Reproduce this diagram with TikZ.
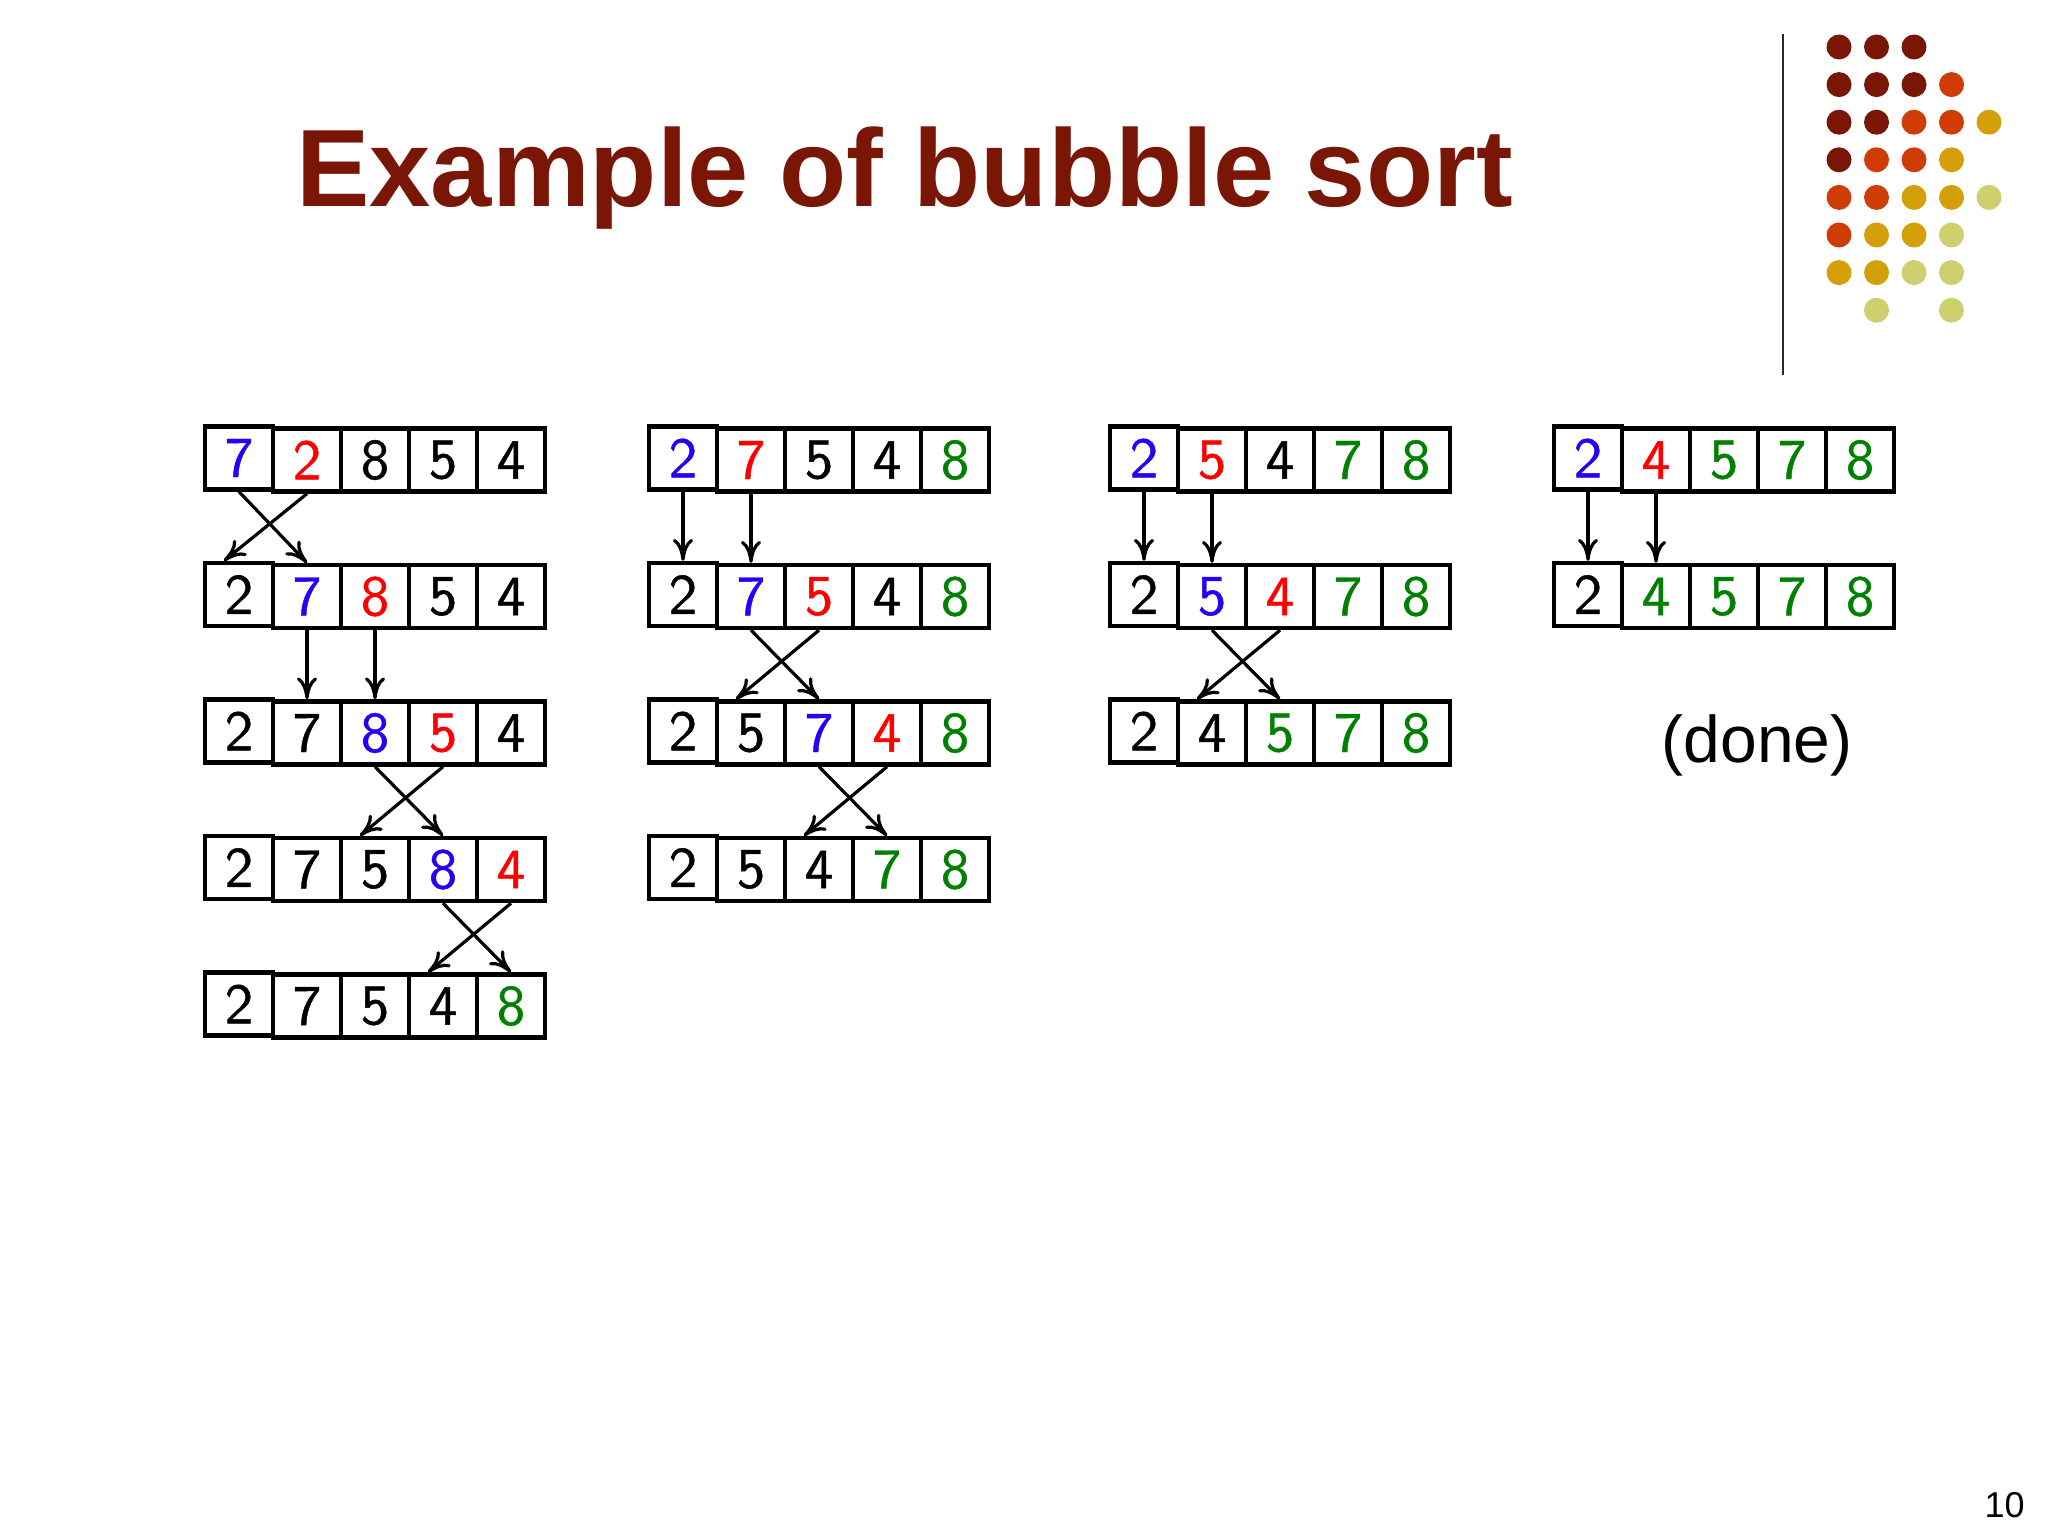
\documentclass[tikz,border=0pt]{standalone}
\usepackage{fontspec}
\setmainfont{Liberation Sans}
\newfontfamily\digitfont{lmsans10-regular.otf}[FakeBold=0.8]
\usetikzlibrary{arrows.meta}
\definecolor{titlered}{RGB}{122,22,5}
\definecolor{dotM}{RGB}{122,22,5}
\definecolor{dotO}{RGB}{208,60,5}
\definecolor{dotG}{RGB}{212,160,10}
\definecolor{dotK}{RGB}{206,207,110}
\definecolor{cb}{RGB}{40,0,245}
\definecolor{cr}{RGB}{255,0,0}
\definecolor{cg}{RGB}{0,128,0}
\definecolor{ck}{RGB}{0,0,0}
\newcommand\arrrow[4]{%
  \foreach \d/\c [count=\k from 0] in {#4} {
    \pgfmathsetmacro\xx{#3+36+68*\k}
    \pgfmathsetmacro\yy{460+136.5*#2-(\k==0?2:0)}
    \node[cellbox,text=\c] (#1r#2k\k) at (\xx,\yy) {\d};
  }}
\begin{document}
\begin{tikzpicture}[x=0.5pt,y=-0.5pt,
  cellbox/.style={draw=black,line width=2.2pt,minimum width=34pt,minimum height=31.5pt,
    inner sep=0pt,font=\digitfont\fontsize{28.5}{28.5}\selectfont},
  arr/.style={line width=1.6pt,-{To[length=11pt,width=10pt]}},
  dot/.style={radius=6.25pt}]
\useasboundingbox (0,0) rectangle (2048,1536);
\fill[white] (0,0) rectangle (2048,1536);

% title
\node[anchor=base west,inner sep=0pt,text=titlered,
  font=\bfseries\fontsize{55}{60}\selectfont] (title) at (296,206) {Example of bubble sort};

% vertical rule
\draw[line width=1.2pt,color={rgb,255:red,40;green,40;blue,40}] (1783,34) coordinate (vt) -- (1783,375) coordinate (vb);

% dots
\foreach \r/\row in {0/{M,M,M},1/{M,M,M,O},2/{M,M,O,O,G},3/{M,O,O,G},4/{O,O,G,G,K},5/{O,G,G,K},6/{G,G,K,K}} {
  \foreach \cc [count=\c from 0] in \row {
    \fill[dot\cc] (1839+37.5*\c,47+37.6*\r) circle[dot];
  }
}
\fill[dotK] (1839+37.5,47+37.6*7) circle[dot];
\fill[dotK] (1839+37.5*3,47+37.6*7) circle[dot];

% column A
\arrrow{A}{0}{203}{7/cb,2/cr,8/ck,5/ck,4/ck}
\arrrow{A}{1}{203}{2/ck,7/cb,8/cr,5/ck,4/ck}
\arrrow{A}{2}{203}{2/ck,7/ck,8/cb,5/cr,4/ck}
\arrrow{A}{3}{203}{2/ck,7/ck,5/ck,8/cb,4/cr}
\arrrow{A}{4}{203}{2/ck,7/ck,5/ck,4/ck,8/cg}
% column B
\arrrow{B}{0}{647}{2/cb,7/cr,5/ck,4/ck,8/cg}
\arrrow{B}{1}{647}{2/ck,7/cb,5/cr,4/ck,8/cg}
\arrrow{B}{2}{647}{2/ck,5/ck,7/cb,4/cr,8/cg}
\arrrow{B}{3}{647}{2/ck,5/ck,4/ck,7/cg,8/cg}
% column C
\arrrow{C}{0}{1108}{2/cb,5/cr,4/ck,7/cg,8/cg}
\arrrow{C}{1}{1108}{2/ck,5/cb,4/cr,7/cg,8/cg}
\arrrow{C}{2}{1108}{2/ck,4/ck,5/cg,7/cg,8/cg}
% column D
\arrrow{D}{0}{1552}{2/cb,4/cr,5/cg,7/cg,8/cg}
\arrrow{D}{1}{1552}{2/ck,4/cg,5/cg,7/cg,8/cg}

% arrows: vertical
\foreach \n/\r/\s/\i in {A/1/2/1,A/1/2/2,B/0/1/0,B/0/1/1,C/0/1/0,C/0/1/1,D/0/1/0,D/0/1/1} {
  \draw[arr] (\n r\r k\i.south) -- (\n r\s k\i.north);
}
% arrows: crossing swaps
\foreach \n/\r/\s/\i/\j in {A/0/1/0/1,A/2/3/2/3,A/3/4/3/4,B/1/2/1/2,B/2/3/2/3,C/1/2/1/2} {
  \draw[arr] (\n r\r k\i.south) -- (\n r\s k\j.north);
  \draw[arr] (\n r\r k\j.south) -- ([xshift=-7.5pt]\n r\s k\i.north);
}

\node[anchor=base,inner sep=0pt,font=\fontsize{33}{36}\selectfont] (done) at (1757,762) {(done)};
\node[anchor=base east,inner sep=0pt,font=\fontsize{18}{20}\selectfont] (pnum) at (2025,1517) {10};
\end{tikzpicture}
\end{document}
